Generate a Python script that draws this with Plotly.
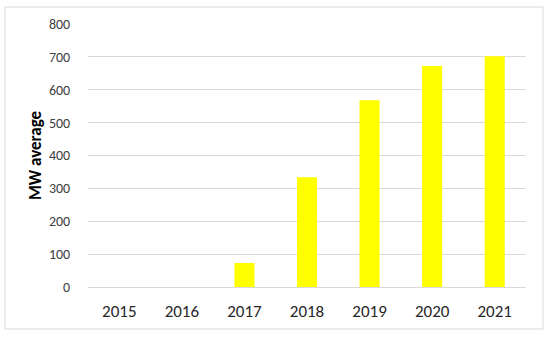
import plotly.graph_objects as go

years = ["2015", "2016", "2017", "2018", "2019", "2020", "2021"]
mw_average = [0, 0, 73, 334, 568, 672, 702]
y_ticks = [0, 100, 200, 300, 400, 500, 600, 700, 800]

W, H = 550, 337
L, R, T, B = 88, 24, 24, 50
pw, ph = W - L - R, H - T - B

fig = go.Figure(go.Bar(x=years, y=mw_average, marker=dict(color="#FFFF00", line=dict(width=0)), width=0.32))

fig.update_layout(
    width=W, height=H,
    margin=dict(l=L, r=R, t=T, b=B),
    paper_bgcolor="white", plot_bgcolor="white",
    showlegend=False,
    font=dict(family="Calibri, Carlito, Liberation Sans, sans-serif", color="#404040"),
)
fig.update_yaxes(
    range=[0, 800], tickvals=y_ticks, showgrid=True, gridcolor="#D9D9D9", gridwidth=1,
    zeroline=True, zerolinecolor="#D9D9D9", zerolinewidth=1,
    tickfont=dict(size=14, color="#404040"),
    ticks="outside", ticklen=14, tickcolor="rgba(0,0,0,0)",
    title=dict(text="<b>MW average</b>", font=dict(size=17, color="#000000"), standoff=2),
    showline=False,
)
fig.update_xaxes(
    showgrid=False, showline=False, ticks="outside", ticklen=9, tickcolor="rgba(0,0,0,0)",
    tickfont=dict(size=17, color="#262626"),
)
# outer chart border
x0 = (5 - L) / pw
x1 = (543 - L) / pw
y1 = (H - B - 7) / ph
y0 = (H - B - 329) / ph
fig.add_shape(type="rect", xref="paper", yref="paper", x0=x0, x1=x1, y0=y0, y1=y1,
              line=dict(color="#D9D9D9", width=1), fillcolor="rgba(0,0,0,0)", layer="below")

fig.write_html("out.html", config={"displayModeBar": False},
               post_script="document.body.style.margin='0';")
